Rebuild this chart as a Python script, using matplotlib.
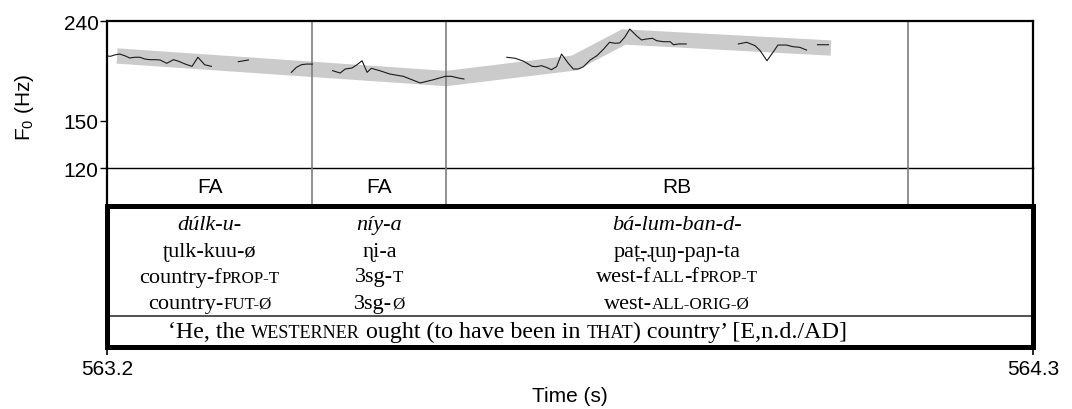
import matplotlib
matplotlib.use('Agg')
import matplotlib.pyplot as plt
import numpy as np
from matplotlib.offsetbox import TextArea, HPacker, AnnotationBbox
from matplotlib.ticker import FixedLocator, FixedFormatter, NullLocator

plt.rcParams['font.family'] = ['Liberation Sans', 'DejaVu Sans']
plt.rcParams['mathtext.default'] = 'regular'
SERIF = ['Liberation Serif', 'DejaVu Serif']

# F0 track (time in s, F0 in Hz); None marks unvoiced gaps
f0_time = [563.200, 563.204, 563.210, 563.215, 563.221, 563.227, 563.233, 563.239,
           563.245, 563.251, 563.257, 563.263, 563.271, 563.279, 563.285, 563.293,
           563.301, 563.308, 563.316, 563.324, None,
           563.356, 563.368, None,
           563.419, 563.425, 563.431, 563.437, 563.444, None,
           563.468, 563.477, 563.483, 563.491, 563.497, 563.503, 563.509, 563.514,
           563.524, 563.536, 563.552, 563.572, 563.588, 563.602, 563.609, 563.619,
           563.624, None,
           563.675, 563.685, 563.695, 563.705, 563.710, 563.716, 563.722, 563.728,
           563.734, 563.740, 563.748, 563.754, 563.760, 563.766, 563.774, 563.782,
           563.790, 563.797, 563.803, 563.809, 563.815, 563.821, 563.829, 563.835,
           563.841, 563.848, 563.853, 563.861, 563.869, 563.873, 563.879, 563.888, None,
           563.950, 563.960, 563.970, 563.976, 563.984, 563.992, 563.997, 564.007,
           564.015, 564.023, 564.031, None,
           564.044, 564.057]
f0_hz = [203.5, 203.2, 204.7, 205.4, 203.8, 201.6, 202.3, 202.3,
         200.6, 200.0, 200.0, 199.7, 196.6, 200.0, 198.5, 195.9,
         193.8, 202.3, 195.3, 193.8, None,
         198.1, 199.7, None,
         188.4, 192.9, 195.3, 195.9, 195.9, None,
         189.9, 187.8, 191.4, 192.3, 195.3, 199.0, 188.4, 192.0,
         189.9, 186.9, 184.9, 179.2, 182.0, 184.9, 184.9, 183.2,
         182.6, None,
         202.3, 201.3, 198.5, 193.8, 193.5, 194.4, 192.9, 190.8,
         193.5, 205.4, 196.6, 191.4, 191.4, 193.5, 199.7, 203.8,
         210.3, 217.1, 216.1, 216.4, 222.3, 231.1, 223.9, 219.5,
         220.5, 221.2, 218.7, 217.7, 217.7, 214.6, 215.4, 215.4, None,
         215.4, 217.1, 213.6, 208.6, 199.0, 208.1, 214.3, 214.3,
         212.6, 212.0, 209.3, None,
         214.6, 214.6]

# stylised pitch contour
styl_time = [563.212, 563.603, 563.755, 563.814, 564.060]
styl_hz = [203.5, 183.0, 196.9, 222.6, 211.3]

# interval tier
bounds = [563.2, 563.444, 563.603, 564.151, 564.3]
tier_labels = ['FA', 'FA', 'RB', '']

# interlinear gloss, one entry per word; (text, small caps)
words = ['dúlk-u-', 'níy-a', 'bá-lum-ban-d-']
proto = ['ʈulk-kuu-ø', 'ɳi-a', 'pat̪-ɻuŋ-paɲ-ta']
gloss_proto = [[('country-f', 0), ('PROP-T', 1)],
               [('3sg-', 0), ('T', 1)],
               [('west-f', 0), ('ALL', 1), ('-f', 0), ('PROP-T', 1)]]
gloss_modern = [[('country-', 0), ('FUT-Ø', 1)],
                [('3sg-', 0), ('Ø', 1)],
                [('west-', 0), ('ALL-ORIG-Ø', 1)]]
translation = [('‘He, the ', 0), ('WESTERNER', 1), (' ought (to have been in ', 0),
               ('THAT', 1), (') country’ [E,n.d./AD]', 0)]


def gloss_line(ax, x, y, pieces, size=16, italic=False):
    parts = []
    for text, small in pieces:
        parts.append(TextArea(text, textprops=dict(
            family=SERIF, size=size * 0.76 if small else size,
            style='italic' if italic else 'normal', color='black')))
    pack = HPacker(children=parts, align='baseline', pad=0, sep=0)
    ab = AnnotationBbox(pack, (x, y), xycoords=('data', 'axes fraction'),
                        frameon=False, box_alignment=(0.5, 0.5), pad=0)
    ax.add_artist(ab)


fig = plt.figure(figsize=(10.72, 4.10), dpi=100)
left, width = 0.0998, 0.8638
ax = fig.add_axes([left, 0.5878, width, 0.3585])
ax_t = fig.add_axes([left, 0.4944, width, 0.0934])
ax_b = fig.add_axes([left, 0.1512, width, 0.3432])
ax_t.patch.set_visible(False)
ax_b.patch.set_visible(False)

# pitch panel
ax.set_yscale('log')
ax.set_xlim(563.2, 564.3)
ax.set_ylim(120, 240)
ax.yaxis.set_major_locator(FixedLocator([120, 150, 240]))
ax.yaxis.set_major_formatter(FixedFormatter(['120', '150', '240']))
ax.yaxis.set_minor_locator(NullLocator())
ax.set_xticks([])
ax.tick_params(axis='y', length=5, width=1, pad=1, labelsize=15)
ax.plot(styl_time, styl_hz, color='#cbcbcb', lw=11, solid_capstyle='butt',
        solid_joinstyle='miter', zorder=1)
ax.plot(np.array(f0_time, dtype=float), np.array(f0_hz, dtype=float),
        color='#1a1a1a', lw=0.8, zorder=3)
for s in ['top', 'left', 'right']:
    ax.spines[s].set_linewidth(1.6)
ax.spines['bottom'].set_linewidth(1.0)

# tier panel
ax_t.set_xlim(563.2, 564.3)
ax_t.set_ylim(0, 1)
ax_t.set_xticks([])
ax_t.set_yticks([])
ax_t.spines['top'].set_visible(False)
ax_t.spines['bottom'].set_visible(False)
for s in ['left', 'right']:
    ax_t.spines[s].set_linewidth(1.6)
for i, lab in enumerate(tier_labels):
    ax_t.text((bounds[i] + bounds[i + 1]) / 2, 0.52, lab, ha='center', va='center',
              fontsize=15)

for b in bounds[1:-1]:
    ax.axvline(b, color='#7f7f7f', lw=1.2, zorder=2)
    ax_t.axvline(b, color='#7f7f7f', lw=1.2, zorder=2)

# gloss box
ax_b.set_xlim(563.2, 564.3)
ax_b.set_ylim(0, 1)
ax_b.set_yticks([])
ax_b.set_xticks([563.2, 564.3])
ax_b.set_xticklabels(['563.2', '564.3'])
ax_b.tick_params(axis='x', length=5.5, width=1.2, pad=3, labelsize=15)
for s in ax_b.spines.values():
    s.set_linewidth(3.6)
ax_b.axhline(0.222, color='#333333', lw=1.2)

for i in range(len(words)):
    xc = (bounds[i] + bounds[i + 1]) / 2
    gloss_line(ax_b, xc, 0.868, [(words[i], 0)], italic=True)
    gloss_line(ax_b, xc, 0.677, [(proto[i], 0)])
    gloss_line(ax_b, xc, 0.500, gloss_proto[i])
    gloss_line(ax_b, xc, 0.310, gloss_modern[i])
gloss_line(ax_b, (bounds[0] + bounds[3]) / 2, 0.110, translation, size=17.3)

ax.set_ylabel('F$_0$ (Hz)', fontsize=15)
ax.yaxis.set_label_coords(-0.077, 0.42)
ax_b.set_xlabel('Time (s)', fontsize=15)
ax_b.xaxis.set_label_coords(0.5, -0.28)

fig.savefig('out.png', dpi=100)
